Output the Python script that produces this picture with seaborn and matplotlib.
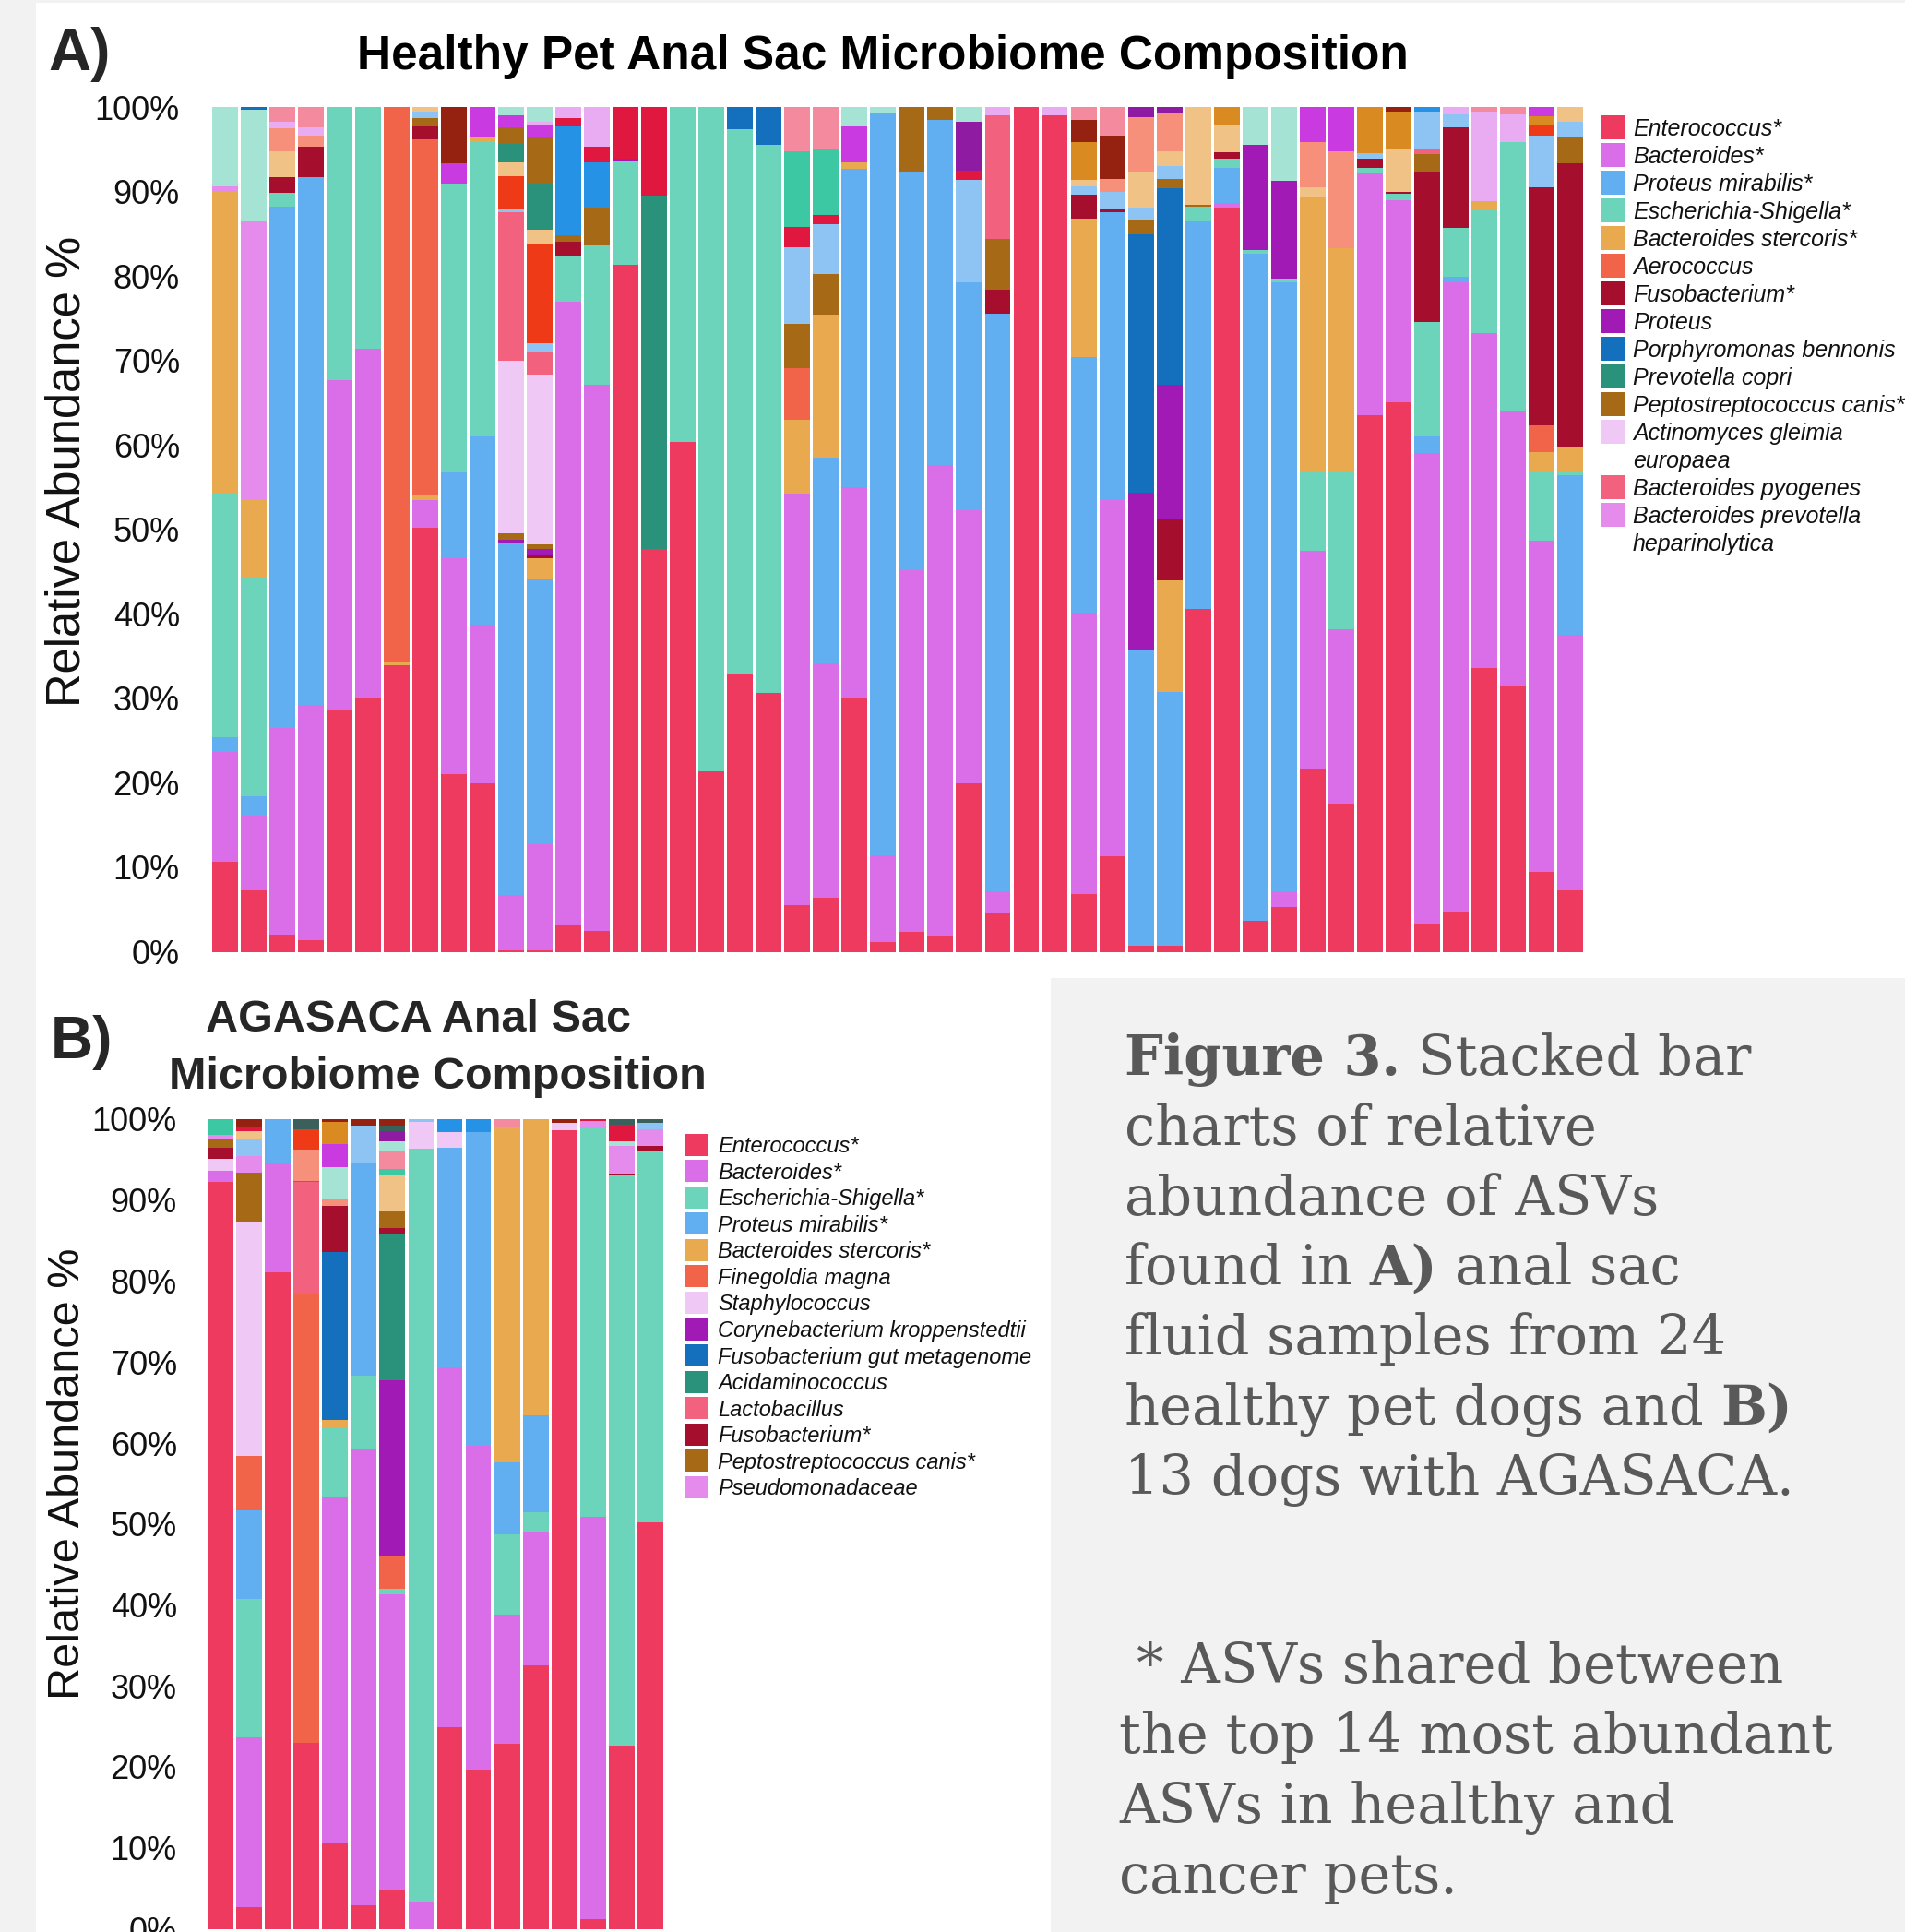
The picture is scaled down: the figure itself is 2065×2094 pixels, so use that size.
import matplotlib
matplotlib.use("Agg")
import matplotlib.pyplot as plt
from matplotlib.patches import Rectangle
import seaborn as sns
import pandas as pd

# =================== Panel A: healthy pets (48 samples) ===================
samples_A = list(range(48))

enterococcus_A = [10.7, 7.3, 2.0, 1.4, 28.7, 30.0, 33.9, 50.2,
                  21.0, 19.9, 0.2, 0.2, 3.1, 2.5, 81.3, 47.7,
                  60.3, 21.3, 32.8, 30.6, 5.5, 6.4, 30.0, 1.2,
                  2.3, 1.8, 19.9, 4.5, 100.0, 99.0, 6.8, 11.3,
                  0.7, 0.7, 40.6, 88.1, 3.7, 5.3, 21.7, 17.5,
                  63.5, 65.0, 3.2, 4.8, 33.6, 31.4, 9.5, 7.3]
bacteroides_A = [12.9, 8.8, 24.5, 27.8, 39.0, 41.4, 0, 3.3,
                 25.6, 18.8, 6.5, 12.5, 73.9, 64.6, 0, 0,
                 0, 0, 0, 0, 48.7, 27.7, 25.0, 10.2,
                 42.9, 55.8, 32.4, 2.6, 0, 0, 33.3, 42.2,
                 0, 0, 0, 0.5, 0, 1.9, 25.8, 20.7,
                 28.6, 24.0, 55.8, 74.5, 39.6, 32.5, 39.2, 30.2]
p_mirabilis_A = [1.8, 2.3, 61.7, 62.5, 0, 0, 0, 0,
                 10.1, 22.3, 41.7, 31.4, 0, 0, 0, 0,
                 0, 0, 0, 0, 0, 24.4, 37.7, 87.8,
                 47.1, 40.9, 26.9, 68.4, 0, 0, 30.3, 34.0,
                 35.0, 30.0, 45.9, 4.2, 78.9, 72.0, 0, 0,
                 0, 0, 2.0, 0.6, 0, 0, 0, 18.9]
e_shigella_A = [28.8, 25.8, 1.6, 0, 32.3, 28.6, 0, 0,
                34.2, 34.8, 0, 0, 5.4, 16.5, 12.4, 0,
                39.7, 78.7, 64.6, 64.9, 0, 0, 0, 0,
                0, 0, 0, 0, 0, 0, 0, 0,
                0, 0, 1.7, 1.1, 0.5, 0.5, 9.2, 18.8,
                0.7, 0.7, 13.6, 5.8, 14.8, 31.9, 8.3, 0.6]
b_stercoris_A = [35.7, 9.3, 0, 0, 0, 0, 0.4, 0.5,
                 0, 0.6, 0, 2.5, 0, 0, 0, 0,
                 0, 0, 0, 0, 8.8, 16.9, 0.7, 0,
                 0, 0, 0, 0, 0, 0, 16.4, 0,
                 0, 13.3, 0, 0, 0, 0, 32.6, 26.3,
                 0, 0, 0, 0, 0.9, 0, 2.2, 2.8]
aerococcus_A = [0, 0, 0, 0, 0, 0, 65.7, 42.2,
                0, 0, 0, 0, 0, 0, 0, 0,
                0, 0, 0, 0, 6.1, 0, 0, 0,
                0, 0, 0, 0, 0, 0, 0, 0,
                0, 0, 0, 0, 0, 0, 0, 0,
                0, 0, 0, 0, 0, 0, 3.1, 0]
fusobacterium_A = [0, 0, 1.9, 3.6, 0, 0, 0, 1.5,
                   0, 0, 0, 0.4, 1.7, 0, 0, 0,
                   0, 0, 0, 0, 0, 0, 0, 0,
                   0, 0, 0, 2.9, 0, 0, 2.8, 0.4,
                   0, 7.3, 0, 0.8, 0, 0, 0, 0,
                   1.1, 0.3, 17.7, 11.9, 0, 0, 28.2, 33.5]
proteus_A = [0, 0, 0, 0, 0, 0, 0, 0,
             0, 0, 0.4, 0.7, 0, 0, 0.2, 0,
             0, 0, 0, 0, 0, 0, 0, 0,
             0, 0, 0, 0, 0, 0, 0, 0,
             18.6, 15.8, 0, 0, 12.4, 11.6, 0, 0,
             0, 0, 0, 0, 0, 0, 0, 0]
porphyromonas_A = [0, 0, 0, 0, 0, 0, 0, 0,
                   0, 0, 0, 0, 0, 0, 0, 0,
                   0, 0, 2.6, 4.5, 0, 0, 0, 0,
                   0, 0, 0, 0, 0, 0, 0, 0,
                   30.6, 23.3, 0, 0, 0, 0, 0, 0,
                   0, 0, 0, 0, 0, 0, 0, 0]
prevotella_A = [0, 0, 0, 0, 0, 0, 0, 0,
                0, 0, 0, 0, 0, 0, 0, 41.8,
                0, 0, 0, 0, 0, 0, 0, 0,
                0, 0, 0, 0, 0, 0, 0, 0,
                0, 0, 0, 0, 0, 0, 0, 0,
                0, 0, 0, 0, 0, 0, 0, 0]
peptostrep_A = [0, 0, 0, 0, 0, 0, 0, 1.0,
                0, 0, 0.7, 0.5, 0.7, 4.5, 0, 0,
                0, 0, 0, 0, 5.2, 4.8, 0, 0,
                7.7, 1.5, 0, 6.0, 0, 0, 0, 0,
                1.8, 1.1, 0.2, 0, 0, 0, 0, 0,
                0, 0, 2.1, 0, 0, 0, 0, 3.2]
actinomyces_A = [0, 0, 0, 0, 0, 0, 0, 0,
                 0, 0, 20.5, 20.1, 0, 0, 0, 0,
                 0, 0, 0, 0, 0, 0, 0, 0,
                 0, 0, 0, 0, 0, 0, 0, 0,
                 0, 0, 0, 0, 0, 0, 0, 0,
                 0, 0, 0, 0, 0, 0, 0, 0]
b_pyogenes_A = [0, 0, 0, 0, 0, 0, 0, 0,
                0, 0, 17.6, 2.6, 0, 0, 0, 0,
                0, 0, 0, 0, 0, 0, 0, 0,
                0, 0, 0, 14.6, 0, 0, 0, 0,
                0, 0, 0, 0, 0, 0, 0, 0,
                0, 0, 0.6, 0, 0, 0, 0, 0]
b_prev_hep_A = [0.7, 33.0, 0, 0, 0, 0, 0, 0,
                0, 0, 0, 0, 0, 0, 0, 0,
                0, 0, 0, 0, 0, 0, 0, 0,
                0, 0, 0, 0, 0, 0, 0, 0,
                0, 0, 0, 0, 0, 0, 0, 0,
                0, 0, 0, 0, 0, 0, 0, 0]
# unlabeled minor ASVs (not in the legend)
o_lightblue_A = [0, 0, 0, 0, 0, 0, 0, 0.8,
                 0, 0, 0.4, 1.1, 0, 0, 0, 0,
                 0, 0, 0, 0, 9.1, 5.9, 0, 0,
                 0, 0, 12.2, 0, 0, 0, 1.0, 2.0,
                 1.4, 1.5, 0, 0, 0, 0, 0, 0,
                 0.6, 0, 4.4, 1.5, 0, 0, 6.1, 1.7]
o_orangered_A = [0, 0, 0, 0, 0, 0, 0, 0,
                 0, 0, 3.8, 11.7, 0, 0, 0, 0,
                 0, 0, 0, 0, 0, 0, 0, 0,
                 0, 0, 0, 0, 0, 0, 0, 0,
                 0, 0, 0, 0, 0, 0, 0, 0,
                 0, 0, 0, 0, 0, 0, 1.2, 0]
o_lightorange_A = [0, 0, 3.1, 0, 0, 0, 0, 0.5,
                   0, 0, 1.7, 1.8, 0, 0, 0, 0,
                   0, 0, 0, 0, 0, 0, 0, 0,
                   0, 0, 0, 0, 0, 0, 0.8, 0,
                   4.2, 1.8, 11.6, 3.2, 0, 0, 1.2, 0,
                   0, 5.0, 0, 0, 0, 0, 0, 1.8]
o_salmon_A = [0, 0, 2.7, 1.3, 0, 0, 0, 0,
              0, 0, 0, 0, 0, 0, 0, 0,
              0, 0, 0, 0, 0, 0, 0, 0,
              0, 0, 0, 0, 0, 0, 0, 1.6,
              6.5, 4.4, 0, 0, 0, 0, 5.3, 11.5,
              0, 0, 0, 0, 0, 0, 0, 0]
o_darkteal_A = [0, 0, 0, 0, 0, 0, 0, 0,
                0, 0, 2.1, 5.4, 0, 0, 0, 0,
                0, 0, 0, 0, 0, 0, 0, 0,
                0, 0, 0, 0, 0, 0, 0, 0,
                0, 0, 0, 0, 0, 0, 0, 0,
                0, 0, 0, 0, 0, 0, 0, 0]
o_brown_A = [0, 0, 0, 0, 0, 0, 0, 0,
             0, 0, 2.0, 5.5, 0, 0, 0, 0,
             0, 0, 0, 0, 0, 0, 0, 0,
             0, 0, 0, 0, 0, 0, 0, 0,
             0, 0, 0, 0, 0, 0, 0, 0,
             0, 0, 0, 0, 0, 0, 0, 0]
o_medblue_A = [0, 0, 0, 0, 0, 0, 0, 0,
               0, 0, 0, 0, 12.9, 5.4, 0, 0,
               0, 0, 0, 0, 0, 0, 0, 0,
               0, 0, 0, 0, 0, 0, 0, 0,
               0, 0, 0, 0, 0, 0, 0, 0,
               0, 0, 0.6, 0, 0, 0, 0, 0]
o_crimson_A = [0, 0, 0, 0, 0, 0, 0, 0,
               0, 0, 0, 0, 1.0, 1.8, 6.1, 10.5,
               0, 0, 0, 0, 2.4, 1.1, 0, 0,
               0, 0, 1.1, 0, 0, 0, 0, 0,
               0, 0, 0, 0, 0, 0, 0, 0,
               0, 0, 0, 0, 0, 0, 0, 0]
o_darkorange_A = [0, 0, 0, 0, 0, 0, 0, 0,
                  0, 0, 0, 0, 0, 0, 0, 0,
                  0, 0, 0, 0, 0, 0, 0, 0,
                  0, 0, 0, 0, 0, 0, 4.4, 0,
                  0, 0, 0, 2.1, 0, 0, 0, 0,
                  5.5, 4.4, 0, 0, 0, 0, 1.1, 0]
o_medteal_A = [0, 0, 0, 0, 0, 0, 0, 0,
               0, 0, 0, 0, 0, 0, 0, 0,
               0, 0, 0, 0, 9.0, 7.8, 0, 0,
               0, 0, 0, 0, 0, 0, 0, 0,
               0, 0, 0, 0, 0, 0, 0, 0,
               0, 0, 0, 0, 0, 0, 0, 0]
o_brightmag_A = [0, 0, 0, 0, 0, 0, 0, 0,
                 2.4, 3.6, 1.4, 1.4, 0, 0, 0, 0,
                 0, 0, 0, 0, 0, 0, 4.3, 0,
                 0, 0, 0, 0, 0, 0, 0, 0,
                 0, 0, 0, 0, 0, 0, 4.2, 5.2,
                 0, 0, 0, 0, 0, 0, 1.1, 0]
o_darkbrown_A = [0, 0, 0, 0, 0, 0, 0, 0,
                 6.7, 0, 0, 0, 0, 0, 0, 0,
                 0, 0, 0, 0, 0, 0, 0, 0,
                 0, 0, 0, 0, 0, 0, 2.7, 5.1,
                 0, 0, 0, 0, 0, 0, 0, 0,
                 0, 0.6, 0, 0, 0, 0, 0, 0]
o_lavpink_A = [0, 0, 0.8, 1.0, 0, 0, 0, 0,
               0, 0, 0, 0.5, 1.3, 4.7, 0, 0,
               0, 0, 0, 0, 0, 0, 0, 0,
               0, 0, 0, 1.0, 0, 1.0, 0, 0,
               0, 0, 0, 0, 0, 0, 0, 0,
               0, 0, 0, 0.9, 10.5, 3.3, 0, 0]
o_lightpink_A = [0, 0, 1.7, 2.4, 0, 0, 0, 0,
                 0, 0, 0, 0, 0, 0, 0, 0,
                 0, 0, 0, 0, 5.2, 5.0, 0, 0,
                 0, 0, 0, 0, 0, 0, 1.5, 3.4,
                 0, 0, 0, 0, 0, 0, 0, 0,
                 0, 0, 0, 0, 0.6, 0.9, 0, 0]
o_purple_A = [0, 0, 0, 0, 0, 0, 0, 0,
              0, 0, 0, 0, 0, 0, 0, 0,
              0, 0, 0, 0, 0, 0, 0, 0,
              0, 0, 5.7, 0, 0, 0, 0, 0,
              1.2, 0.8, 0, 0, 0, 0, 0, 0,
              0, 0, 0, 0, 0, 0, 0, 0]
o_lightteal_A = [9.4, 13.2, 0, 0, 0, 0, 0, 0,
                 0, 0, 1.0, 1.7, 0, 0, 0, 0,
                 0, 0, 0, 0, 0, 0, 2.3, 0.8,
                 0, 0, 1.8, 0, 0, 0, 0, 0,
                 0, 0, 0, 0, 4.5, 8.7, 0, 0,
                 0, 0, 0, 0, 0, 0, 0, 0]
o_topblue_A = [0, 0.3, 0, 0, 0, 0, 0, 0,
               0, 0, 0, 0, 0, 0, 0, 0,
               0, 0, 0, 0, 0, 0, 0, 0,
               0, 0, 0, 0, 0, 0, 0, 0,
               0, 0, 0, 0, 0, 0, 0, 0,
               0, 0, 0, 0, 0, 0, 0, 0]

# =================== Panel B: AGASACA (16 samples) ===================
samples_B = list(range(16))
enterococcus_B = [92.2, 2.7, 81.1, 23.0, 10.6, 2.9, 4.8, 0, 24.9, 19.7, 22.8, 32.5, 98.6, 1.2, 22.6, 50.2]
bacteroides_B = [1.4, 21.0, 13.6, 0, 42.7, 56.4, 36.5, 3.4, 44.4, 40.0, 16.0, 16.4, 0, 49.7, 0, 0]
e_shigella_B = [0, 17.0, 0, 0, 8.5, 9.0, 0.7, 93.0, 0, 0, 9.9, 2.5, 0, 48.0, 70.4, 45.9]
p_mirabilis_B = [0, 11.0, 5.3, 0, 0, 26.2, 0, 0, 27.2, 38.7, 8.9, 12.0, 0, 0, 0, 0]
b_stercoris_B = [0, 0, 0, 0, 1.0, 0, 0, 0, 0, 0, 41.4, 36.6, 0, 0, 0, 0]
finegoldia_B = [0, 6.7, 0, 55.5, 0, 0, 4.1, 0, 0, 0, 0, 0, 0, 0, 0, 0]
staphylococcus_B = [1.5, 28.8, 0, 0, 0, 0, 0, 3.3, 1.9, 0, 0, 0, 0.9, 0, 0, 0]
corynebacterium_B = [0, 0, 0, 0, 0, 0, 21.7, 0, 0, 0, 0, 0, 0, 0, 0, 0]
fuso_gut_B = [0, 0, 0, 0, 20.8, 0, 0, 0, 0, 0, 0, 0, 0, 0, 0, 0]
acidaminococcus_B = [0, 0, 0, 0, 0, 0, 17.9, 0, 0, 0, 0, 0, 0, 0, 0, 0]
lactobacillus_B = [0, 0, 0, 13.7, 0, 0, 0, 0, 0, 0, 0, 0, 0, 0, 0, 0]
fusobacterium_B = [1.4, 0, 0, 0, 5.7, 0, 0.8, 0, 0, 0, 0, 0, 0, 0, 0.3, 0.6]
peptostrep_B = [1.1, 6.2, 0, 0.2, 0, 0, 2.1, 0, 0, 0, 0, 0, 0, 0, 0, 0]
pseudomonad_B = [0.5, 2.0, 0, 0, 0, 0, 0, 0, 0, 0, 0, 0, 0, 0.9, 3.4, 2.1]
o_lightblue_B = [0, 2.2, 0, 0, 0, 4.7, 0, 0.3, 0, 0, 0, 0, 0, 0, 0, 0.8]
o_salmon_B = [0, 0, 0, 3.8, 0.9, 0, 0, 0, 0, 0, 0, 0, 0, 0, 0, 0]
o_orangered_B = [0, 0, 0, 2.6, 0, 0, 0, 0, 0, 0, 0, 0, 0, 0, 0, 0]
o_lightorange_B = [0, 0.9, 0, 0, 0, 0, 4.5, 0, 0, 0, 0, 0, 0, 0, 0, 0]
o_medteal_B = [1.9, 0, 0, 0, 0, 0, 0.7, 0, 0, 0, 0, 0, 0, 0, 0, 0]
o_lightpink_B = [0, 0, 0, 0, 0, 0, 2.3, 0, 0, 0, 1.0, 0, 0, 0, 0, 0]
o_lightteal_B = [0, 0, 0, 0, 3.9, 0, 1.2, 0, 0, 0, 0, 0, 0, 0, 0.6, 0]
o_brightmag_B = [0, 0, 0, 0, 2.8, 0, 0, 0, 0, 0, 0, 0, 0, 0, 0, 0]
o_darkorange_B = [0, 0, 0, 0, 2.8, 0, 0, 0, 0, 0, 0, 0, 0, 0, 0, 0]
o_crimson_B = [0, 0.5, 0, 0, 0, 0, 0, 0, 0, 0, 0, 0, 0, 0.2, 2.0, 0]
o_purple_B = [0, 0, 0, 0, 0, 0, 1.2, 0, 0, 0, 0, 0, 0, 0, 0, 0]
o_medblue_B = [0, 0, 0, 0, 0, 0, 0, 0, 1.6, 1.6, 0, 0, 0, 0, 0, 0]
o_darkteal_B = [0, 0, 0, 1.2, 0, 0, 0.7, 0, 0, 0, 0, 0, 0, 0, 0.7, 0.4]
o_darkbrown_B = [0, 1.1, 0, 0, 0.3, 0.8, 0.8, 0, 0, 0, 0, 0, 0.5, 0, 0, 0]

# ---------------- colours ----------------
C_RED, C_MAG, C_BLUE, C_TEAL = "#EE3A5F", "#D96EE8", "#61AEF0", "#6CD4BB"
C_ORANGE, C_CORAL, C_FUSO, C_PURPLE = "#E8A94F", "#F2644A", "#A50E2D", "#A11AB6"
C_DKBLUE, C_DKTEAL, C_BROWN, C_LAV = "#1470BC", "#2A917B", "#A66A17", "#F0C8F6"
C_PINKRED, C_LTMAG = "#F2617E", "#E48BEB"
X_LTBLUE, X_ORRED, X_LTORANGE, X_SALMON = "#8DC4F4", "#EE3A17", "#F0C286", "#F6907A"
X_MEDBLUE, X_CRIMSON, X_DKORANGE, X_MEDTEAL = "#2692E6", "#E0173F", "#D98B22", "#3CC8A3"
X_BRMAG, X_DKBROWN, X_LAVPINK, X_LTPINK = "#C93BE1", "#952210", "#E9ABF1", "#F48A9E"
X_PURPLE2, X_LTTEAL = "#8E1BA2", "#A5E4D4"

# stacking order (bottom -> top): name, values, colour
stack_A = [
    ("Enterococcus*", enterococcus_A, C_RED),
    ("Bacteroides*", bacteroides_A, C_MAG),
    ("Proteus mirabilis*", p_mirabilis_A, C_BLUE),
    ("Escherichia-Shigella*", e_shigella_A, C_TEAL),
    ("Bacteroides stercoris*", b_stercoris_A, C_ORANGE),
    ("Aerococcus", aerococcus_A, C_CORAL),
    ("Fusobacterium*", fusobacterium_A, C_FUSO),
    ("Proteus", proteus_A, C_PURPLE),
    ("Porphyromonas bennonis", porphyromonas_A, C_DKBLUE),
    ("Prevotella copri", prevotella_A, C_DKTEAL),
    ("Peptostreptococcus canis*", peptostrep_A, C_BROWN),
    ("Actinomyces gleimia\neuropaea", actinomyces_A, C_LAV),
    ("Bacteroides pyogenes", b_pyogenes_A, C_PINKRED),
    ("Bacteroides prevotella\nheparinolytica", b_prev_hep_A, C_LTMAG),
    ("other 1", o_lightblue_A, X_LTBLUE),
    ("other 2", o_orangered_A, X_ORRED),
    ("other 3", o_lightorange_A, X_LTORANGE),
    ("other 4", o_salmon_A, X_SALMON),
    ("other 5", o_darkteal_A, C_DKTEAL),
    ("other 6", o_brown_A, C_BROWN),
    ("other 7", o_medblue_A, X_MEDBLUE),
    ("other 8", o_crimson_A, X_CRIMSON),
    ("other 9", o_darkorange_A, X_DKORANGE),
    ("other 10", o_medteal_A, X_MEDTEAL),
    ("other 11", o_brightmag_A, X_BRMAG),
    ("other 12", o_darkbrown_A, X_DKBROWN),
    ("other 13", o_lavpink_A, X_LAVPINK),
    ("other 14", o_lightpink_A, X_LTPINK),
    ("other 15", o_purple_A, X_PURPLE2),
    ("other 16", o_lightteal_A, X_LTTEAL),
    ("other 17", o_topblue_A, C_DKBLUE),
]
legend_count_A = 14

stack_B = [
    ("Enterococcus*", enterococcus_B, C_RED),
    ("Bacteroides*", bacteroides_B, C_MAG),
    ("Escherichia-Shigella*", e_shigella_B, C_TEAL),
    ("Proteus mirabilis*", p_mirabilis_B, C_BLUE),
    ("Bacteroides stercoris*", b_stercoris_B, C_ORANGE),
    ("Finegoldia magna", finegoldia_B, C_CORAL),
    ("Staphylococcus", staphylococcus_B, C_LAV),
    ("Corynebacterium kroppenstedtii", corynebacterium_B, C_PURPLE),
    ("Fusobacterium gut metagenome", fuso_gut_B, C_DKBLUE),
    ("Acidaminococcus", acidaminococcus_B, C_DKTEAL),
    ("Lactobacillus", lactobacillus_B, C_PINKRED),
    ("Fusobacterium*", fusobacterium_B, C_FUSO),
    ("Peptostreptococcus canis*", peptostrep_B, C_BROWN),
    ("Pseudomonadaceae", pseudomonad_B, C_LTMAG),
    ("other 1", o_lightblue_B, X_LTBLUE),
    ("other 2", o_salmon_B, X_SALMON),
    ("other 3", o_orangered_B, X_ORRED),
    ("other 4", o_lightorange_B, X_LTORANGE),
    ("other 5", o_medteal_B, X_MEDTEAL),
    ("other 6", o_lightpink_B, X_LTPINK),
    ("other 7", o_lightteal_B, X_LTTEAL),
    ("other 8", o_brightmag_B, X_BRMAG),
    ("other 9", o_darkorange_B, X_DKORANGE),
    ("other 10", o_crimson_B, X_CRIMSON),
    ("other 11", o_purple_B, X_PURPLE2),
    ("other 12", o_medblue_B, X_MEDBLUE),
    ("other 13", o_darkteal_B, "#3B5F5A"),
    ("other 14", o_darkbrown_B, X_DKBROWN),
]
legend_count_B = 14

ytick_values = [0, 10, 20, 30, 40, 50, 60, 70, 80, 90, 100]
ytick_labels = [f"{v}%" for v in ytick_values]

# ---------------- figure ----------------
sns.set_theme(style="white")
plt.rcParams["font.family"] = ["Liberation Sans", "DejaVu Sans"]
W, H = 2065, 2094
fig = plt.figure(figsize=(W / 100, H / 100), dpi=100)
fig.patch.set_facecolor("white")


def fx(x):
    return x / W


def fy(y):
    return 1 - y / H


def frect(x0, y0, x1, y1, color, z=-5):
    fig.add_artist(Rectangle((fx(x0), fy(y1)), (x1 - x0) / W, (y1 - y0) / H,
                             transform=fig.transFigure, facecolor=color,
                             edgecolor="none", zorder=z))


# background decorations
frect(0, 0, 39, H, "#F2F2F2")
frect(0, 0, W, 2.5, "#F2F2F2")
frect(1139, 1060, W, H, "#F2F2F2")


def long_df(stack, samples):
    rows = []
    for name, vals, _ in stack:
        for s, v in zip(samples, vals):
            rows.append({"sample": s, "taxon": name, "value": v})
    return pd.DataFrame(rows)


def stacked(ax, stack, samples):
    df = long_df(stack, samples)
    order = [n for n, _, _ in stack]
    pal = {n: c for n, _, c in stack}
    # seaborn stacks the last hue level at the bottom
    sns.histplot(data=df, x="sample", weights="value", hue="taxon",
                 hue_order=order[::-1], palette=pal, multiple="stack",
                 discrete=True, shrink=0.9, edgecolor="none", linewidth=0,
                 alpha=1, legend=False, ax=ax)
    ax.set_xlim(-0.5, len(samples) - 0.5)
    ax.set_ylim(0, 100)
    ax.set_xticks([])
    ax.set_yticks(ytick_values)
    ax.set_yticklabels(ytick_labels)
    ax.set_xlabel("")
    ax.set_ylabel("")
    ax.set_facecolor("none")
    for sp in ax.spines.values():
        sp.set_visible(False)


pitch = 31.03
# Panel A axes
axA_left = 229.7 - 0.05 * pitch
axA = fig.add_axes([fx(axA_left), fy(1031.5), 48 * pitch / W, (1031.5 - 116) / H])
stacked(axA, stack_A, samples_A)
axA.tick_params(axis="y", length=0, pad=24, labelsize=26, labelcolor="#111111")

# Panel B axes
axB_left = 225.3 - 0.05 * pitch
axB = fig.add_axes([fx(axB_left), fy(2090.5), 16 * pitch / W, (2090.5 - 1213) / H])
stacked(axB, stack_B, samples_B)
axB.tick_params(axis="y", length=0, pad=23, labelsize=26, labelcolor="#111111")

# titles / panel letters / y labels
fig.text(fx(387), fy(75), "Healthy Pet Anal Sac Microbiome Composition",
         fontsize=37, fontweight="bold", ha="left", va="baseline", color="#000000")
fig.text(fx(52), fy(76), "A)", fontsize=46, fontweight="bold", ha="left", va="baseline")
fig.text(fx(222.7), fy(1118.3), "AGASACA Anal Sac", fontsize=35, fontweight="bold",
         ha="left", va="baseline")
fig.text(fx(183.3), fy(1180), "Microbiome Composition", fontsize=35, fontweight="bold",
         ha="left", va="baseline")
fig.text(fx(55), fy(1147), "B)", fontsize=46, fontweight="bold", ha="left", va="baseline")
fig.text(fx(73.5), fy(511), "Relative Abundance %", rotation=90, fontsize=36.5,
         ha="center", va="center", color="#111111")
fig.text(fx(74), fy(1597.5), "Relative Abundance %", rotation=90, fontsize=35,
         ha="center", va="center", color="#111111")


# legends (drawn as figure artists)
def draw_legend(stack, n, x_patch, patch_w, patch_h, x_text, y0, step, fsize, base_off):
    line = 0
    for name, _, color in stack[:n]:
        yc = y0 + step * line
        frect(x_patch, yc - patch_h / 2, x_patch + patch_w, yc + patch_h / 2, color, z=2)
        for part in name.split("\n"):
            fig.text(fx(x_text), fy(y0 + step * line + base_off), part, fontsize=fsize,
                     style="italic", ha="left", va="baseline", color="#111111")
            line += 1


draw_legend(stack_A, legend_count_A, 1736, 25, 26, 1770, 138.3, 29.95, 18, 9)
draw_legend(stack_B, legend_count_B, 743.3, 25, 24, 778.3, 1240.8, 28.53, 17, 8.5)

# caption with mixed bold / regular runs
renderer = fig.canvas.get_renderer()
cap_kw = dict(family="DejaVu Serif", fontsize=42.5, color="#595959", ha="left", va="baseline")


def measure(s, weight):
    t = fig.text(0, 0, s, fontweight=weight, **cap_kw)
    w = t.get_window_extent(renderer).width
    t.remove()
    return w


space_w = measure("a a", "normal") - measure("aa", "normal")


def draw_runs(runs, x, y):
    for s, weight in runs:
        lead = len(s) - len(s.lstrip(" "))
        trail = len(s) - len(s.rstrip(" "))
        core = s.strip(" ")
        x += lead * space_w
        t = fig.text(fx(x), fy(y), core, fontweight=weight, **cap_kw)
        x += t.get_window_extent(renderer).width + trail * space_w


caption_lines = [
    [("Figure 3.", "bold"), (" Stacked bar", "normal")],
    [("charts of relative", "normal")],
    [("abundance of ASVs", "normal")],
    [("found in ", "normal"), ("A)", "bold"), (" anal sac", "normal")],
    [("fluid samples from 24", "normal")],
    [("healthy pet dogs and ", "normal"), ("B)", "bold")],
    [("13 dogs with AGASACA.", "normal")],
]
for i, runs in enumerate(caption_lines):
    draw_runs(runs, 1219, 1165 + 75.8 * i)

note_lines = [" * ASVs shared between", "the top 14 most abundant",
              "ASVs in healthy and", "cancer pets."]
for i, s in enumerate(note_lines):
    draw_runs([(s, "normal")], 1213, 1824 + 76 * i)

fig.savefig("out.png", dpi=100)
